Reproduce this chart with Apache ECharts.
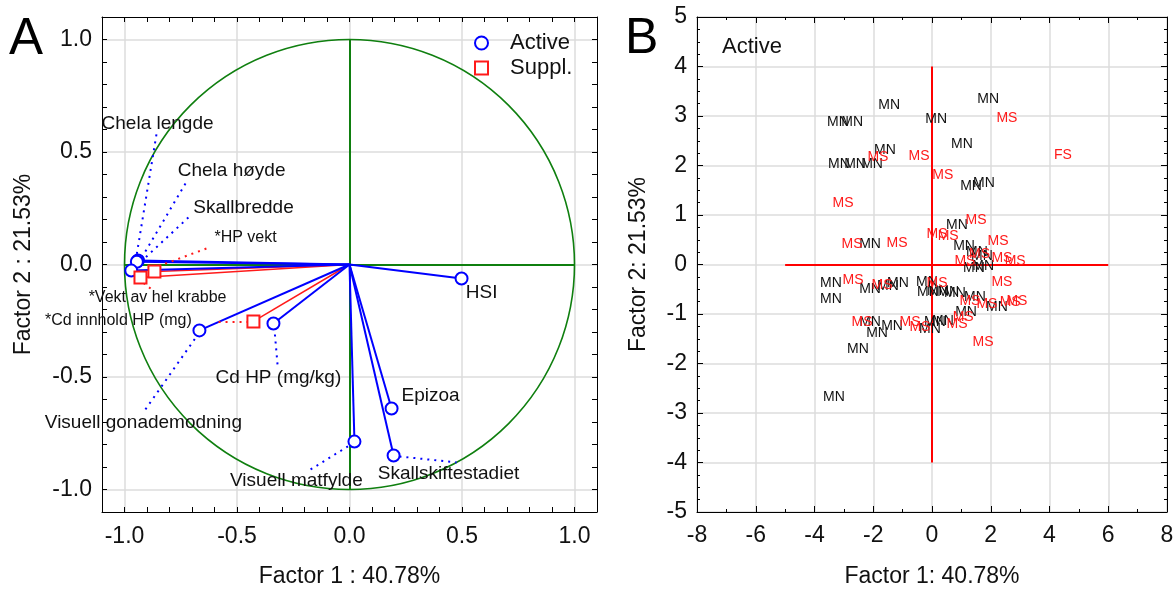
<!DOCTYPE html>
<html>
<head>
<meta charset="utf-8">
<script src="https://cdn.jsdelivr.net/npm/echarts@6/dist/echarts.min.js"></script>
<style>
  html, body { margin: 0; padding: 0; background: #fff; }
  #chart { width: 1176px; height: 590px; }
</style>
</head>
<body>
<div id="chart"></div>
<script>
// ---- Panel A: variable loadings ----
const activeNames = ['Chela lengde', 'Chela høyde', 'Skallbredde', 'Visuell gonademodning', 'Cd HP (mg/kg)',
  'HSI', 'Epizoa', 'Visuell matfylde', 'Skallskiftestadiet']
const activeX = [-0.94, -0.945, -0.97, -0.667, -0.338, 0.498, 0.187, 0.022, 0.196]
const activeY = [0.018, 0.012, -0.027, -0.293, -0.262, -0.062, -0.64, -0.787, -0.849]

const supplNames = ['*HP vekt', '*Vekt av hel krabbe', '*Cd innhold HP (mg)']
const supplX = [-0.867, -0.929, -0.427]
const supplY = [-0.031, -0.058, -0.253]

// ---- Panel B: case scores ----
const mnX = [-1.46, 1.91, -3.2, -2.72, 0.14, 1.02, -1.6, -3.17, -2.62, -2.04, 1.33, 1.77, 0.85, -2.11, 1.09, 1.53,
  1.7, 1.74, 1.43, -3.44, -3.44, -2.11, -1.5, -1.16, -0.17, -0.14, 0.2, 0.55, 0.78, 1.46, 2.21, 1.16, -2.11,
  -1.87, -1.36, -0.07, 0.1, 0.37, -2.52, -3.34]
const mnY = [3.21, 3.35, 2.87, 2.87, 2.93, 2.44, 2.32, 2.02, 2.02, 2.02, 1.58, 1.64, 0.79, 0.42, 0.38, 0.24,
  0.16, -0.04, -0.08, -0.38, -0.69, -0.5, -0.44, -0.38, -0.36, -0.55, -0.53, -0.55, -0.57, -0.65, -0.87, -0.97, -1.17,
  -1.39, -1.25, -1.31, -1.17, -1.15, -1.7, -2.67]
const msX = [2.55, -1.84, -0.44, 0.37, -3.03, 1.5, 0.17, 0.55, -2.72, -1.19, 2.25, 1.12, 1.62, 2.38, 2.83, -2.69,
  -1.7, 0.17, 2.38, 1.29, 1.87, 2.66, 2.89, 1.06, -2.38, -0.75, -0.41, 0.85, 1.74]
const msY = [2.95, 2.16, 2.18, 1.8, 1.23, 0.89, 0.61, 0.57, 0.42, 0.44, 0.48, 0.06, 0.2, 0.12, 0.06, -0.32,
  -0.42, -0.38, -0.36, -0.75, -0.81, -0.77, -0.75, -1.07, -1.17, -1.17, -1.27, -1.21, -1.56]
const fsX = [4.46]
const fsY = [2.2]

// label anchors and leader lines (layout, data coords)
const activeLabelPos = [[-0.853, 0.627], [-0.524, 0.418], [-0.471, 0.253], [-0.916, -0.702], [-0.316, -0.502],
  [0.587, -0.124], [0.36, -0.582], [-0.236, -0.96], [0.44, -0.929]]
const supplLabelPos = [[-0.462, 0.12], [-0.853, -0.147], [-1.027, -0.249]]
const activeLeaders = [
  [[-0.858, 0.578], [-0.947, 0.036]],
  [[-0.729, 0.36], [-0.92, 0.036]],
  [[-0.716, 0.209], [-0.907, 0.031]],
  [[-0.907, -0.644], [-0.68, -0.32]],
  [[-0.32, -0.444], [-0.333, -0.293]],
  [[-0.173, -0.911], [0, -0.804]],
  [[0.222, -0.853], [0.476, -0.88]],
]
const supplLeaders = [
  [[-0.636, 0.071], [-0.853, -0.009]],
  [[-0.884, -0.107], [-0.924, -0.076]],
  [[-0.582, -0.253], [-0.453, -0.253]],
]

const FONT = 'Liberation Sans, Arial, sans-serif'
const TXT = '#111'
const GRID_C = '#dcdcdc'
const AX_FS = 23

const zip = (xs, ys) => xs.map((x, i) => [x, ys[i]])
const vectors = (xs, ys) => xs.map((x, i) => ({ coords: [[0, 0], [x, ys[i]]] }))
const isHalf = v => Math.abs(v * 2 - Math.round(v * 2)) < 1e-6

const chart = echarts.init(document.getElementById('chart'))

function axisA(dim, gridIndex, position, withLabel) {
  return {
    type: 'value', gridIndex, position, min: -1.1, max: 1.1, interval: 0.1,
    axisLine: { show: true, onZero: false, lineStyle: { color: '#000', width: 1 } },
    axisTick: { show: true, inside: true, length: 5, lineStyle: { color: '#000' } },
    axisLabel: {
      show: withLabel, fontFamily: FONT, fontSize: AX_FS, color: TXT, margin: dim === 'x' ? 13 : 10,
      formatter: v => isHalf(v) ? Number(v).toFixed(1) : '',
    },
    splitLine: {
      show: withLabel,
      lineStyle: { width: 1.5, color: ['transparent', GRID_C, 'transparent', 'transparent', 'transparent'] },
    },
  }
}
function axisB(gridIndex, position, min, max, interval, minorSplit, withLabel, dim) {
  return {
    type: 'value', gridIndex, position, min, max, interval,
    axisLine: { show: true, onZero: false, lineStyle: { color: '#000', width: 1 } },
    axisTick: { show: true, inside: true, length: 6, lineStyle: { color: '#000' } },
    minorTick: { show: true, splitNumber: minorSplit, length: 3, lineStyle: { color: '#000' } },
    axisLabel: { show: withLabel, fontFamily: FONT, fontSize: AX_FS, color: TXT, margin: dim === 'x' ? 12 : 10 },
    splitLine: { show: withLabel, lineStyle: { width: 1.5, color: GRID_C } },
  }
}
function named(axis, name, gap) {
  axis.name = name; axis.nameLocation = 'middle'; axis.nameGap = gap
  axis.nameTextStyle = { fontFamily: FONT, fontSize: AX_FS, color: TXT }
  return axis
}

const labelSeries = (names, pos, size) => ({
  type: 'scatter', xAxisIndex: 0, yAxisIndex: 0, symbolSize: 0, silent: true, z: 5,
  itemStyle: { opacity: 1 },
  data: names.map((n, i) => ({ name: n, value: pos[i] })),
  label: { show: true, position: 'inside', formatter: p => p.name, fontFamily: FONT, fontSize: size, color: TXT },
})
const textSeries = (xs, ys, txt, color) => ({
  type: 'scatter', xAxisIndex: 2, yAxisIndex: 2, symbolSize: 0, silent: true,
  itemStyle: { opacity: 1 },
  data: zip(xs, ys),
  label: { show: true, position: 'inside', formatter: txt, fontFamily: FONT, fontSize: 14, color },
})

chart.setOption({
  animation: false,
  grid: [
    { left: 102, top: 17, width: 495, height: 495, outerBoundsMode: 'none' },
    { left: 697, top: 17, width: 470, height: 495, outerBoundsMode: 'none' },
  ],
  xAxis: [
    named(axisA('x', 0, 'bottom', true), 'Factor 1 : 40.78%', 53),
    axisA('x', 0, 'top', false),
    named(axisB(1, 'bottom', -8, 8, 2, 2, true, 'x'), 'Factor 1: 40.78%', 53),
    axisB(1, 'top', -8, 8, 2, 2, false, 'x'),
  ],
  yAxis: [
    named(axisA('y', 0, 'left', true), 'Factor 2 : 21.53%', 67),
    axisA('y', 0, 'right', false),
    named(axisB(1, 'left', -5, 5, 1, 4, true, 'y'), 'Factor 2: 21.53%', 47),
    axisB(1, 'right', -5, 5, 1, 4, false, 'y'),
  ],
  legend: {
    left: 469, top: 27, orient: 'vertical', itemGap: 3, itemWidth: 13, itemHeight: 13,
    data: ['Active', 'Suppl.'],
    textStyle: { fontFamily: FONT, fontSize: 22, color: TXT, padding: [0, 0, 0, 17] },
  },
  series: [
    {
      type: 'lines', coordinateSystem: 'cartesian2d', xAxisIndex: 0, yAxisIndex: 0, silent: true,
      lineStyle: { color: '#0f7f0f', width: 2, opacity: 1 },
      data: [{ coords: [[-1, 0], [1, 0]] }, { coords: [[0, -1], [0, 1]] }],
    },
    {
      type: 'lines', coordinateSystem: 'cartesian2d', xAxisIndex: 0, yAxisIndex: 0, silent: true,
      lineStyle: { color: '#ff1a1a', width: 1.5, opacity: 1 }, data: vectors(supplX, supplY),
    },
    {
      type: 'lines', coordinateSystem: 'cartesian2d', xAxisIndex: 0, yAxisIndex: 0, silent: true,
      lineStyle: { color: '#0000ff', width: 2, opacity: 1 }, data: vectors(activeX, activeY),
    },
    {
      type: 'lines', coordinateSystem: 'cartesian2d', xAxisIndex: 0, yAxisIndex: 0, silent: true,
      lineStyle: { color: '#0000ff', width: 2, type: [2, 5], opacity: 1 },
      data: activeLeaders.map(c => ({ coords: c })),
    },
    {
      type: 'lines', coordinateSystem: 'cartesian2d', xAxisIndex: 0, yAxisIndex: 0, silent: true,
      lineStyle: { color: '#ff1a1a', width: 2, type: [2, 5], opacity: 1 },
      data: supplLeaders.map(c => ({ coords: c })),
    },
    {
      name: 'Active', type: 'scatter', xAxisIndex: 0, yAxisIndex: 0, symbol: 'emptyCircle', symbolSize: 12, z: 4,
      itemStyle: { color: '#0000ff', borderWidth: 1.6, opacity: 1 }, data: zip(activeX, activeY),
    },
    {
      name: 'Suppl.', type: 'scatter', xAxisIndex: 0, yAxisIndex: 0, symbol: 'emptyRect', symbolSize: 12, z: 4,
      itemStyle: { color: '#ff1a1a', borderWidth: 1.6, opacity: 1 }, data: zip(supplX, supplY),
    },
    labelSeries(activeNames, activeLabelPos, 19),
    labelSeries(supplNames, supplLabelPos, 16),
    {
      type: 'lines', coordinateSystem: 'cartesian2d', xAxisIndex: 2, yAxisIndex: 2, silent: true,
      lineStyle: { color: '#ff0000', width: 2, opacity: 1 },
      data: [{ coords: [[-5, 0], [6, 0]] }, { coords: [[0, -4], [0, 4]] }],
    },
    textSeries(mnX, mnY, 'MN', TXT),
    textSeries(msX, msY, 'MS', '#ff1a1a'),
    textSeries(fsX, fsY, 'FS', '#ff1a1a'),
  ],
})

// unit circle through the axis scales
const c0 = chart.convertToPixel({ xAxisIndex: 0, yAxisIndex: 0 }, [0, 0])
const c1 = chart.convertToPixel({ xAxisIndex: 0, yAxisIndex: 0 }, [1, 0])
chart.setOption({
  graphic: [
    { type: 'circle', z: 1, silent: true, shape: { cx: c0[0], cy: c0[1], r: c1[0] - c0[0] },
      style: { fill: 'none', stroke: '#0f7f0f', lineWidth: 1.6 } },
    { type: 'text', left: 9, top: 14, style: { text: 'A', fontFamily: FONT, fontSize: 51, fill: '#000' } },
    { type: 'text', left: 625, top: 14, style: { text: 'B', fontFamily: FONT, fontSize: 50, fill: '#000' } },
    { type: 'text', left: 722, top: 36, style: { text: 'Active', fontFamily: FONT, fontSize: 22, fill: TXT } },
  ],
})
</script>
</body>
</html>
